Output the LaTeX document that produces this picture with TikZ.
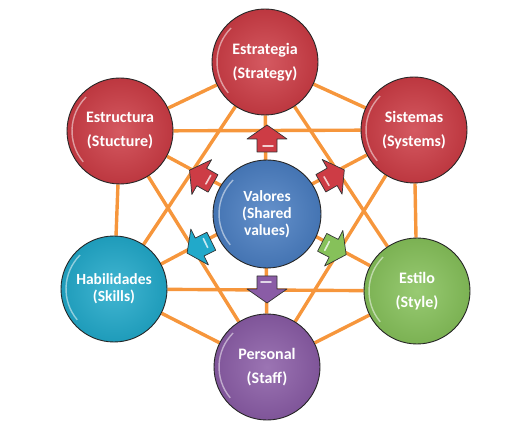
\documentclass[tikz,border=0pt]{standalone}
\usepackage{fontspec}
\setmainfont{Carlito}
\usetikzlibrary{backgrounds}
\definecolor{redc}{HTML}{CD3C45}
\definecolor{bluec}{HTML}{4A7EC2}
\definecolor{cyanc}{HTML}{21A9CA}
\definecolor{greenc}{HTML}{86C15A}
\definecolor{purplec}{HTML}{8A5CA6}
\definecolor{orangec}{HTML}{F6963C}
\tikzset{
  pics/barrow/.style={code={
    \filldraw[fill=#1, draw=black!80, line width=0.7pt, line join=round]
      (62,-10) -- (75,-10) -- (75,-20) -- (89,0) -- (75,20) -- (75,10) -- (62,10) -- cycle;
    \draw[white, opacity=.75, line width=1.6pt, line cap=round] (68,-6) -- (68,4);
  }}
}
\begin{document}
\begin{tikzpicture}[x=1pt,y=1pt,
  ball/.style={circle, minimum size=106pt, inner sep=0pt, draw=black!85, line width=0.9pt,
    inner color=#1!85!white, outer color=#1!92!black, text=white,
    font=\fontsize{16}{24}\selectfont\bfseries, align=center,
    path picture={\draw[white,opacity=.5,line width=1.4pt]
      (path picture bounding box.center) ++(135:48pt) arc[start angle=135,end angle=220,radius=48pt];}},
  tight/.style={font=\fontsize{15.5}{17}\selectfont\bfseries},
  link/.style={draw=orangec, line width=3.4pt},
]
\useasboundingbox (0,0) rectangle (530,426);
\node[ball=redc] (estr) at (265,364) {Estrategia\\(Strategy)};
\node[ball=redc] (sist) at (414,296) {Sistemas\\(Systems)};
\node[ball=redc] (estc) at (120,295) {Estructura\\(Stucture)};
\node[ball=cyanc, tight] (habi) at (114,137) {Habilidades\\(Skills)};
\node[ball=greenc] (estl) at (417,135) {Estilo\\(Style)};
\node[ball=purplec] (pers) at (267,59) {Personal\\(Staff)};
\node[ball=bluec, tight, minimum size=108pt] (val) at (267,212) {Valores\\(Shared\\values)};
\begin{scope}[on background layer]
\foreach \a/\b in {estr/sist, estr/estl, estr/pers, estr/habi, estr/estc,
  sist/estl, sist/pers, sist/habi, sist/estc,
  estl/pers, estl/habi, estl/estc,
  pers/habi, pers/estc, habi/estc}
  \draw[link] (\a) -- (\b);
\end{scope}
\pic[rotate=90] at (val) {barrow=redc};
\pic[rotate=29.7] at (val) {barrow=redc};
\pic[rotate=150.5] at (val) {barrow=redc};
\pic[rotate=206.1] at (val) {barrow=cyanc};
\pic[rotate=-27.2] at (val) {barrow=greenc};
\pic[rotate=270] at (val) {barrow=purplec};
\end{tikzpicture}
\end{document}
